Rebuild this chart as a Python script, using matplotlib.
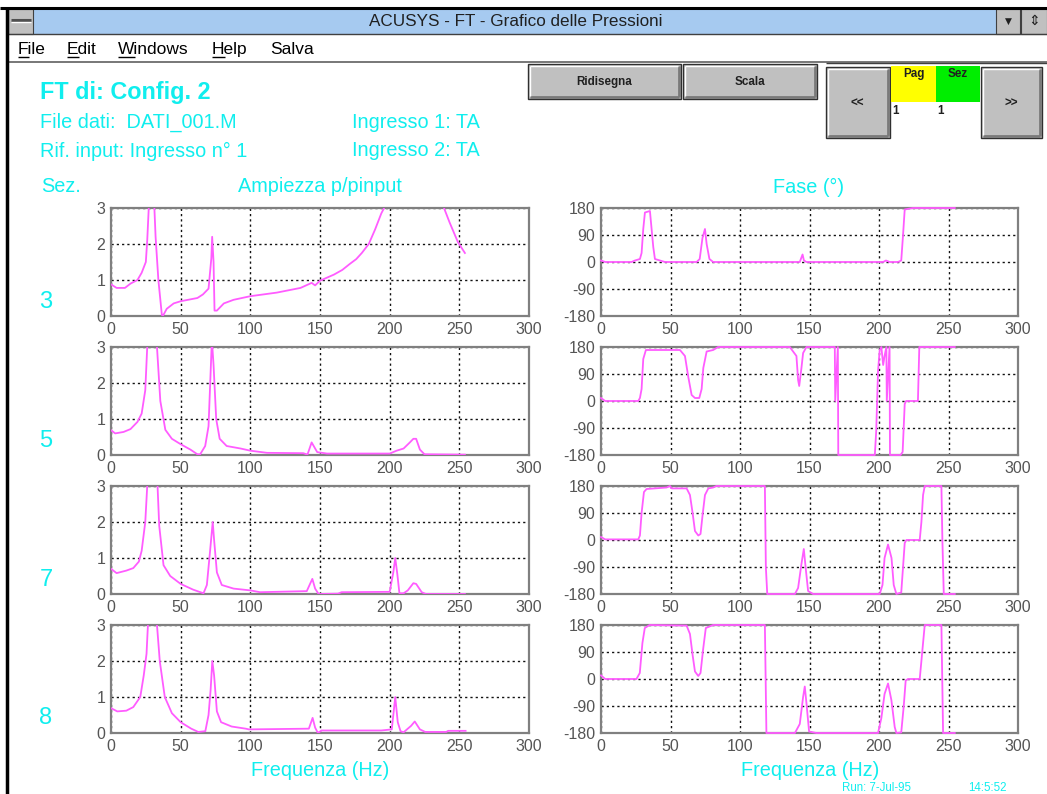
import matplotlib
matplotlib.use("Agg")
import matplotlib.pyplot as plt
from matplotlib.patches import Rectangle
from matplotlib.lines import Line2D

plt.rcParams['font.family'] = ['Liberation Sans', 'DejaVu Sans']
plt.rcParams['axes.unicode_minus'] = False

# ---------------- data ----------------
sections = ["3", "5", "7", "8"]
freq_ticks = [0, 50, 100, 150, 200, 250, 300]
amp_ticks = [0, 1, 2, 3]
phase_ticks = [-180, -90, 0, 90, 180]

amp3_f = [0, 4, 10, 14, 19, 22, 25, 26, 27.7, 29, 30.6, 32, 34, 36.5, 37.5, 40, 45, 50, 54, 62, 66, 70, 72, 72.6, 73.6, 74.3, 76, 81, 88, 100, 119, 136, 144, 146.5, 150, 160, 166, 171.5, 176, 180, 185, 189.5, 194, 196, 200, 220, 239, 243, 249, 254]
amp3_v = [0.88, 0.78, 0.78, 0.9, 1.0, 1.2, 1.5, 2.1, 3.5, 4.0, 3.5, 2.2, 1.0, 0.03, 0.02, 0.2, 0.35, 0.41, 0.44, 0.5, 0.6, 0.76, 1.6, 2.2, 1.5, 0.15, 0.15, 0.35, 0.45, 0.55, 0.65, 0.78, 0.92, 0.85, 0.98, 1.15, 1.28, 1.45, 1.58, 1.75, 2.0, 2.4, 2.85, 3.0, 3.6, 5.0, 3.0, 2.6, 2.05, 1.75]

amp5_f = [0, 3, 9, 14, 19, 22, 24.6, 26, 28, 30, 33, 35.4, 39, 43.7, 50, 57, 62, 64, 67.6, 70, 71.7, 72.4, 73.6, 75.5, 78, 83, 93, 100, 112, 138, 141, 144, 148, 155, 200, 205, 210, 214.5, 217, 219, 221.7, 225, 254]
amp5_v = [0.69, 0.6, 0.64, 0.72, 0.92, 1.15, 1.8, 3.0, 4.5, 4.5, 3.0, 1.5, 0.7, 0.45, 0.3, 0.15, 0.02, 0.02, 0.25, 0.8, 2.5, 3.2, 2.5, 1.0, 0.45, 0.25, 0.18, 0.12, 0.06, 0.05, 0.01, 0.35, 0.08, 0.04, 0.04, 0.12, 0.18, 0.35, 0.45, 0.45, 0.15, 0.02, 0.01]

amp7_f = [0, 4, 11, 16, 20, 22, 24.6, 26, 28, 31, 33.4, 34.6, 37.7, 42.5, 50, 59, 66.4, 68.8, 71, 73, 74, 76, 79.5, 88, 100, 107, 140.5, 144.5, 146.5, 149, 163, 165.5, 200, 202.6, 204, 205.5, 207, 210, 213, 217, 219, 223, 226, 254]
amp7_v = [0.7, 0.58, 0.65, 0.72, 0.9, 1.2, 2.0, 3.0, 4.5, 4.5, 3.0, 1.9, 0.8, 0.5, 0.28, 0.12, 0.02, 0.25, 1.15, 2.0, 1.5, 0.6, 0.25, 0.15, 0.1, 0.05, 0.08, 0.42, 0.15, 0.0, 0.01, 0.05, 0.06, 0.6, 1.0, 0.55, 0.02, 0.02, 0.1, 0.3, 0.28, 0.05, 0.0, 0.0]

amp8_f = [0, 4.5, 11, 16, 21, 23.5, 25.5, 26.5, 28, 31, 33, 35, 38.6, 43.7, 50, 57.6, 62.6, 67.7, 70, 71.5, 72.7, 74, 76, 79, 86.6, 96.7, 99, 142, 144.7, 146.5, 148.5, 151, 194, 201.5, 204, 205.8, 207.8, 210, 215.4, 218, 221.7, 225.5, 240.6, 242, 254.5]
amp8_v = [0.69, 0.6, 0.62, 0.72, 1.0, 1.6, 2.2, 3.0, 4.5, 4.5, 3.0, 2.0, 1.0, 0.55, 0.3, 0.12, 0.03, 0.05, 0.5, 1.2, 2.0, 1.6, 0.6, 0.3, 0.18, 0.12, 0.1, 0.12, 0.42, 0.15, 0.0, 0.07, 0.07, 0.1, 1.0, 0.3, 0.05, 0.02, 0.2, 0.32, 0.1, 0.03, 0.03, 0.06, 0.06]

ph3_f = [0, 3, 22, 24.4, 28, 29.2, 30.4, 31.6, 35.2, 36.4, 37.6, 38.8, 42.4, 46, 68.8, 71, 73, 74.8, 76, 78, 80.7, 143, 145, 146, 147.8, 203, 205, 207.7, 213.7, 216, 217.3, 218.5, 222, 224.5, 254.5]
ph3_v = [5, 0, 0, 5, 10, 30, 110, 165, 170, 110, 50, 10, 5, 0, 0, 10, 80, 110, 60, 10, 0, 0, 25, 5, 0, 0, 5, 0, 0, 5, 90, 175, 178, 180, 180]

ph5_f = [0, 3, 26.8, 28, 29.2, 30.4, 32.3, 56.8, 60.4, 62.8, 65.2, 67.6, 70.7, 72.4, 73.6, 76, 80.7, 84.3, 135.8, 140.6, 141.8, 142.6, 144.2, 145.4, 147.8, 168.2, 168.5, 170.4, 170.7, 197, 198, 199.3, 200.5, 201.7, 203, 204, 205.3, 205.6, 207.6, 207.9, 215.5, 217, 218.5, 219.5, 228, 229, 254.5]
ph5_v = [10, 0, 0, 10, 40, 140, 170, 170, 150, 80, 20, 10, 10, 40, 110, 165, 170, 180, 180, 150, 70, 50, 110, 160, 180, 180, 0, 180, -180, -180, -100, 100, 170, 180, 120, 150, 180, 0, 180, -180, -180, -170, -10, 0, 0, 180, 180]

ph7_f = [0, 3, 26.8, 28, 29.2, 30.9, 32.8, 47.2, 49.6, 50.8, 61.6, 64, 65.9, 67.6, 70, 71.6, 73, 74.8, 77.2, 80.7, 83, 117.9, 118.6, 119.6, 139.5, 141.8, 144.2, 145.9, 147.4, 149, 152.6, 200.5, 202.5, 204, 206.5, 209, 210.6, 212.5, 216, 217.3, 218.5, 219.7, 229.3, 230.5, 231.7, 232.9, 244.9, 245.6, 246.6, 254.5]
ph7_v = [10, 2, 2, 15, 90, 160, 170, 175, 180, 172, 172, 150, 90, 30, 15, 20, 80, 150, 172, 175, 180, 180, -90, -180, -180, -160, -80, -30, -100, -170, -180, -180, -150, -60, -15, -60, -150, -180, -175, -90, -10, 0, 0, 60, 150, 180, 180, 0, -180, -180]

ph8_f = [0, 3, 25.5, 27.9, 29.8, 31.5, 35, 61.6, 64, 65.9, 67.6, 70, 71.6, 73.5, 75.4, 80.7, 117.9, 119.0, 139.5, 143, 145.4, 146.6, 147.8, 149.7, 155, 199.3, 201.7, 204, 206.5, 208.9, 211.3, 212.5, 216, 217.8, 219.2, 220.9, 229.3, 231.7, 232.9, 244.9, 246.1, 254.5]
ph8_v = [12, 0, 0, 20, 120, 170, 180, 178, 150, 80, 25, 10, 20, 100, 170, 180, 180, -180, -180, -150, -60, -25, -80, -175, -180, -180, -130, -50, -15, -70, -160, -180, -178, -90, -5, 0, 0, 120, 180, 180, -180, -180]

amp_series = [(amp3_f, amp3_v), (amp5_f, amp5_v), (amp7_f, amp7_v), (amp8_f, amp8_v)]
phase_series = [(ph3_f, ph3_v), (ph5_f, ph5_v), (ph7_f, ph7_v), (ph8_f, ph8_v)]

# ---------------- styling ----------------
W, H = 1047, 794
CYAN = '#10eeee'
MAG = '#ff5cff'
FRAME = '#808080'
TICKC = '#555555'
BTN = '#c0c0c0'

fig = plt.figure(figsize=(W / 100, H / 100), dpi=100)
fig.patch.set_facecolor('white')


def fx(x):
    return x / W


def fy(y):
    return 1 - y / H


def rect(x0, y0, x1, y1, fc, ec='none', lw=0, z=1):
    r = Rectangle((fx(x0), fy(y1)), (x1 - x0) / W, (y1 - y0) / H, transform=fig.transFigure,
                  facecolor=fc, edgecolor=ec, linewidth=lw, zorder=z)
    fig.add_artist(r)


def line(x0, y0, x1, y1, c, lw=1, z=2):
    fig.add_artist(Line2D([fx(x0), fx(x1)], [fy(y0), fy(y1)], transform=fig.transFigure,
                          color=c, linewidth=lw, zorder=z, solid_capstyle='butt'))


def text(x, y, s, size, color='black', ha='left', va='center', weight='normal', z=5):
    fig.text(fx(x), fy(y), s, fontsize=size, color=color, ha=ha, va=va, weight=weight, zorder=z)


def button(x0, y0, x1, y1):
    rect(x0, y0, x1, y1, BTN, ec='#303030', lw=1.0, z=2)
    line(x0 + 1.5, y1 - 2, x1 - 2, y1 - 2, '#7a7a7a', 2, 3)
    line(x1 - 2, y0 + 1.5, x1 - 2, y1 - 2, '#7a7a7a', 2, 3)
    line(x0 + 1.5, y0 + 1.5, x1 - 3, y0 + 1.5, 'white', 1, 3)
    line(x0 + 1.5, y0 + 1.5, x0 + 1.5, y1 - 3, 'white', 1, 3)


# ---- window chrome ----
line(0, 7.5, W, 7.5, 'black', 2.2, 4)
line(7, 7, 7, H, 'black', 2.5, 4)
rect(8, 8.5, W, 34, '#a6caf0', z=1)
line(8, 34, W, 34, '#404040', 1, 3)
# control box
rect(8, 8.5, 33, 34, BTN, ec='#404040', lw=0.8, z=2)
line(11, 20, 31, 20, '#505050', 2.2, 3)
line(11, 22, 31, 22, 'white', 1, 3)
# right title buttons
rect(996, 8.5, 1020, 34, BTN, ec='#404040', lw=0.8, z=2)
rect(1021, 8.5, W, 34, BTN, ec='#404040', lw=0.8, z=2)
fig.text(fx(1008), fy(21), '\u25BC', fontsize=6.5, color='#202020', ha='center', va='center',
         family='DejaVu Sans', zorder=5)
fig.text(fx(1034), fy(21), '\u21D5', fontsize=10, color='#202020', ha='center', va='center',
         family='DejaVu Sans', zorder=5)
text(516, 21, 'ACUSYS - FT - Grafico delle Pressioni', 12.3, color='#202020', ha='center')

# menu bar
menu = [('File', 18, 10.9), ('Edit', 67, 11.6), ('Windows', 118, 16.5), ('Help', 212, 12.6), ('Salva', 270, 0)]
for label, mx, ul in menu:
    fig.text(fx(mx), fy(54), label, fontsize=12.5, color='black', ha='left', va='baseline', zorder=5)
    if ul:
        line(mx, 56.5, mx + ul, 56.5, 'black', 1, 5)
line(8, 62, W, 62, '#606060', 1.2, 3)

# buttons
button(528, 64, 681, 99)
button(683, 64, 817, 99)
text(604, 82, 'Ridisegna', 8.4, weight='bold', ha='center', color='#202020')
text(750, 82, 'Scala', 8.4, weight='bold', ha='center', color='#202020')
line(826, 63, W, 63, '#404040', 1, 3)
button(826, 67, 890, 138)
button(981, 67, 1042, 138)
text(857, 104, '<<', 8.4, weight='bold', ha='center', color='#202020')
text(1011, 104, '>>', 8.4, weight='bold', ha='center', color='#202020')
rect(891, 66, 936, 102, '#ffff00', z=2)
rect(936, 66, 980, 102, '#00ee00', z=2)
text(914, 74, 'Pag', 8.4, weight='bold', ha='center', color='#202020')
text(958, 74, 'Sez', 8.4, weight='bold', ha='center', color='#202020')
text(892, 111, '1', 8.4, weight='bold', color='#202020')
text(937, 111, '1', 8.4, weight='bold', color='#202020')

# header texts
text(40, 92, 'FT di: Config. 2', 16.8, color=CYAN, weight='bold')
text(40, 122, 'File dati:  DATI_001.M', 14.3, color=CYAN)
text(352, 122, 'Ingresso 1: TA', 14.3, color=CYAN)
text(40, 151, 'Rif. input: Ingresso n\u00b0 1', 14.3, color=CYAN)
text(352, 151, 'Ingresso 2: TA', 14.3, color=CYAN)
text(41, 187, 'Sez.', 14.3, color=CYAN)
text(320, 187, 'Ampiezza p/pinput', 14.3, color=CYAN, ha='center')
text(809, 187, 'Fase (\u00b0)', 14.3, color=CYAN, ha='center')
text(320, 771, 'Frequenza (Hz)', 14.3, color=CYAN, ha='center')
text(810, 771, 'Frequenza (Hz)', 14.3, color=CYAN, ha='center')
text(842, 788, 'Run: 7-Jul-95', 8.3, color=CYAN)
text(968, 788, '14:5:52', 8.3, color=CYAN)

# ---- axes ----
rows = [(208, 316), (347, 455), (486, 594), (625, 733)]
sec_y = [302, 441, 580, 718]


def style_axes(ax, yt):
    ax.set_xlim(0, 300)
    ax.set_xticks(freq_ticks)
    ax.set_yticks(yt)
    ax.set_ylim(yt[0], yt[-1])
    ax.grid(True, color='#111111', linestyle=(0, (1.6, 2.2)), linewidth=1.0)
    ax.set_axisbelow(True)
    for s in ax.spines.values():
        s.set_color(FRAME)
        s.set_linewidth(1.6)
    ax.tick_params(length=0, labelsize=11.5, labelcolor=TICKC, pad=4)
    for lab in ax.get_xticklabels() + ax.get_yticklabels():
        lab.set_fontfamily('Liberation Sans')


for i, (y0, y1) in enumerate(rows):
    axl = fig.add_axes([fx(111), fy(y1), (529 - 111) / W, (y1 - y0) / H])
    style_axes(axl, amp_ticks)
    f, v = amp_series[i]
    axl.plot(f, v, color=MAG, linewidth=1.3, zorder=3)

    axr = fig.add_axes([fx(601), fy(y1), (1018 - 601) / W, (y1 - y0) / H])
    style_axes(axr, phase_ticks)
    f, v = phase_series[i]
    axr.plot(f, v, color=MAG, linewidth=1.3, zorder=3, clip_on=False)

    text(46, sec_y[i], sections[i], 17, color=CYAN, ha='center')

fig.savefig('out.png', dpi=100, facecolor='white')
